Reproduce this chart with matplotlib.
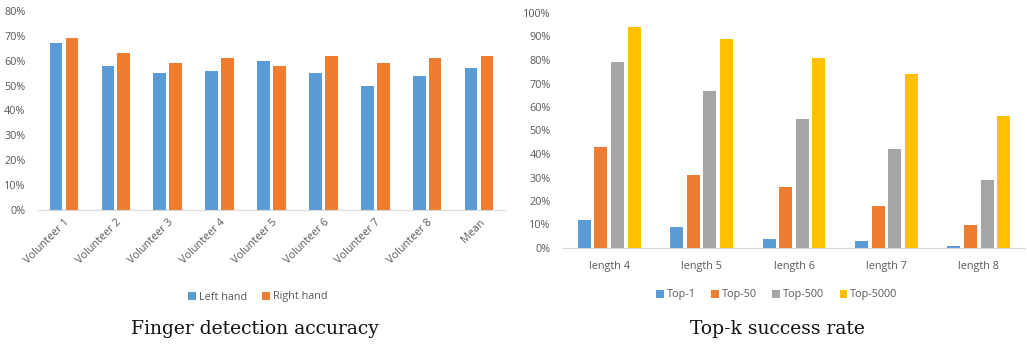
import matplotlib
matplotlib.use("Agg")
import matplotlib.pyplot as plt
import numpy as np
from matplotlib.ticker import PercentFormatter

# Finger detection accuracy per volunteer (%)
volunteers = ["Volunteer 1", "Volunteer 2", "Volunteer 3", "Volunteer 4", "Volunteer 5",
              "Volunteer 6", "Volunteer 7", "Volunteer 8", "Mean"]
left_hand = [67, 58, 55, 56, 60, 55, 50, 54, 57]
right_hand = [69, 63, 59, 61, 58, 62, 59, 61, 62]

# Top-k success rate per password length (%)
lengths = ["length 4", "length 5", "length 6", "length 7", "length 8"]
top1 = [12, 9, 4, 3, 1]
top50 = [43, 31, 26, 18, 10]
top500 = [79, 67, 55, 42, 29]
top5000 = [94, 89, 81, 74, 56]

BLUE, ORANGE, GRAY, YELLOW = "#5B9BD5", "#ED7D31", "#A5A5A5", "#FFC000"
TXT = "#595959"
FS = 7.8

plt.rcParams["font.family"] = ["Open Sans", "DejaVu Sans"]

W, H = 1027, 345
fig = plt.figure(figsize=(W / 100, H / 100), dpi=100)


def px_axes(x0, x1, ytop, ybot):
    return fig.add_axes([x0 / W, 1 - ybot / H, (x1 - x0) / W, (ybot - ytop) / H])


def style(ax):
    for s in ["top", "right", "left"]:
        ax.spines[s].set_visible(False)
    ax.spines["bottom"].set_color("#D9D9D9")
    ax.tick_params(length=0, labelsize=FS, colors=TXT)
    ax.tick_params(axis="y", pad=9)
    ax.yaxis.set_major_formatter(PercentFormatter(decimals=0))


# Left panel
ax1 = px_axes(38, 505, 11, 210)
x = np.arange(len(volunteers))
bw, gap = 0.245, 0.06
ax1.bar(x - (bw + gap) / 2, left_hand, bw, color=BLUE, label="Left hand")
ax1.bar(x + (bw + gap) / 2, right_hand, bw, color=ORANGE, label="Right hand")
ax1.set_xlim(-0.5, len(volunteers) - 0.5)
ax1.set_ylim(0, 80)
ax1.set_yticks(np.arange(0, 81, 10))
ax1.set_xticks(x)
ax1.set_xticklabels(volunteers, rotation=45, ha="right", rotation_mode="anchor")
style(ax1)
ax1.tick_params(axis="x", pad=5)
ax1.legend(loc="center", bbox_to_anchor=(258 / W, 1 - 297 / H), bbox_transform=fig.transFigure,
           ncol=2, frameon=False, fontsize=FS, handlelength=0.7, handleheight=0.7,
           handletextpad=0.3, columnspacing=1.4, labelcolor=TXT)
fig.text(255 / W, 1 - 329 / H, "Finger detection accuracy", ha="center", va="center",
         family="DejaVu Serif", fontsize=13.5, color="#111111")

# Right panel
ax2 = px_axes(563, 1025, 13, 248)
x2 = np.arange(len(lengths))
bw2, step = 0.14, 0.18
series = [(top1, BLUE, "Top-1"), (top50, ORANGE, "Top-50"),
          (top500, GRAY, "Top-500"), (top5000, YELLOW, "Top-5000")]
for i, (vals, col, lab) in enumerate(series):
    ax2.bar(x2 + (i - 1.5) * step, vals, bw2, color=col, label=lab)
ax2.set_xlim(-0.5, len(lengths) - 0.5)
ax2.set_ylim(0, 100)
ax2.set_yticks(np.arange(0, 101, 10))
ax2.set_xticks(x2)
ax2.set_xticklabels(lengths)
style(ax2)
ax2.tick_params(axis="x", pad=9)
ax2.legend(loc="center", bbox_to_anchor=(777 / W, 1 - 295 / H), bbox_transform=fig.transFigure,
           ncol=4, frameon=False, fontsize=FS, handlelength=0.7, handleheight=0.7,
           handletextpad=0.3, columnspacing=1.4, labelcolor=TXT)
fig.text(777 / W, 1 - 329 / H, "Top-k success rate", ha="center", va="center",
         family="DejaVu Serif", fontsize=13.5, color="#111111")

fig.savefig("out.png", dpi=100)
